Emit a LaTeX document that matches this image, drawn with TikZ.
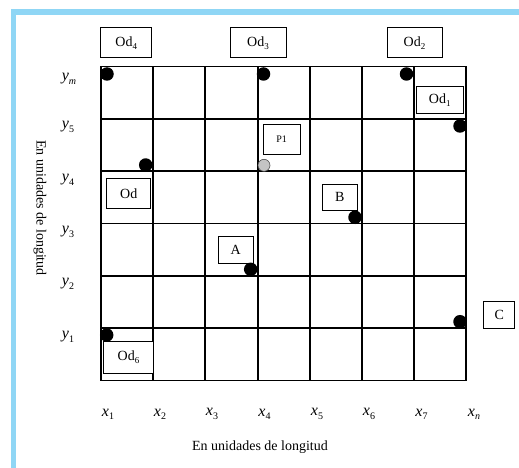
\documentclass[tikz,border=0pt]{standalone}
\usepackage{fontspec}
\setmainfont{Liberation Serif}
\definecolor{frameblue}{HTML}{8FD6F5}
\definecolor{dotgray}{HTML}{C4C4C4}
\newcommand\ilab[2]{\textit{#1}\raisebox{-0.45ex}{\fontsize{10}{10}\selectfont #2}}
\newcommand\sublab[2]{#1\raisebox{-0.45ex}{\fontsize{9}{9}\selectfont #2}}
\begin{document}
\begin{tikzpicture}[x=1pt,y=-1pt,
  box/.style={draw=black,line width=1pt,fill=white,inner sep=0pt,font=\fontsize{14}{14}\selectfont},
  dot/.style={circle,fill=black,inner sep=0pt,minimum size=13.5pt},
  graydot/.style={circle,fill=dotgray,draw=black!70,line width=0.6pt,inner sep=0pt,minimum size=12pt},
  lab/.style={inner sep=0pt,font=\fontsize{16}{16}\selectfont},
  gridline/.style={line width=1.9pt,black}]
\useasboundingbox (0,0) rectangle (519,468);
% blue frame
\fill[frameblue] (11,9) rectangle (519,15);
\fill[frameblue] (11,9) rectangle (16,468);
% grid
\foreach \i in {0,...,7} {
  \pgfmathsetmacro\xx{101+52.2*\i}
  \draw[gridline] (\xx,66.5) -- (\xx,380.5);
}
\foreach \j in {0,...,6} {
  \pgfmathsetmacro\yy{66.5+52.33*\j}
  \draw[gridline] (101,\yy) -- (466.4,\yy);
}
% y labels
\node[lab] (ym) at (69,79) {\ilab{y}{\textit{m}}};
\node[lab] (y5) at (68,127) {\ilab{y}{5}};
\node[lab] (y4) at (68,180) {\ilab{y}{4}};
\node[lab] (y3) at (68,232) {\ilab{y}{3}};
\node[lab] (y2) at (68,284) {\ilab{y}{2}};
\node[lab] (y1) at (68,337) {\ilab{y}{1}};
% x labels
\node[lab] (x1) at (108,414) {\ilab{x}{1}};
\node[lab] (x2) at (160,414) {\ilab{x}{2}};
\node[lab] (x3) at (212,414) {\ilab{x}{3}};
\node[lab] (x4) at (264.5,414) {\ilab{x}{4}};
\node[lab] (x5) at (317,414) {\ilab{x}{5}};
\node[lab] (x6) at (369,414) {\ilab{x}{6}};
\node[lab] (x7) at (421.5,414) {\ilab{x}{7}};
\node[lab] (xn) at (474,414) {\ilab{x}{\textit{n}}};
% axis titles
\node[inner sep=0pt,font=\fontsize{14}{14}\selectfont] (tx) at (260,447) {En unidades de longitud};
\node[inner sep=0pt,font=\fontsize{14}{14}\selectfont,rotate=-90] (ty) at (40,208) {En unidades de longitud};
% boxes
\node[box,minimum width=51pt,minimum height=30pt] (od4) at (126.3,42.8) {\sublab{Od}{4}};
\node[box,minimum width=56pt,minimum height=30pt] (od3) at (258,42.8) {\sublab{Od}{3}};
\node[box,minimum width=55pt,minimum height=30pt] (od2) at (414.5,42.8) {\sublab{Od}{2}};
\node[box,minimum width=47pt,minimum height=27pt] (od1) at (439.7,100.3) {\sublab{Od}{1}};
\node[box,minimum width=37pt,minimum height=30pt,font=\fontsize{10}{10}\selectfont] (p1) at (281.7,139.2) {P1};
\node[box,minimum width=35pt,minimum height=26pt] (b) at (339.8,197.3) {B};
\node[box,minimum width=35pt,minimum height=26.5pt] (a) at (235.7,250) {A};
\node[box,minimum width=44pt,minimum height=30.5pt] (od) at (128.7,193.7) {Od};
\node[box,minimum width=49.5pt,minimum height=31.5pt] (od6) at (128.5,357.5) {\sublab{Od}{6}};
\node[box,minimum width=31.5pt,minimum height=26.5pt] (c) at (499.2,315) {C};
% dots
\node[dot] (d1) at (107,74) {};
\node[dot] (d2) at (263.5,74) {};
\node[dot] (d3) at (406.5,74) {};
\node[dot] (d4) at (460,126) {};
\node[dot] (d5) at (145.7,165) {};
\node[graydot] (d6) at (264,165.3) {};
\node[dot] (d7) at (355,217.3) {};
\node[dot] (d8) at (250.7,269.3) {};
\node[dot] (d9) at (460,321.7) {};
\node[dot] (d10) at (106.7,335) {};
\end{tikzpicture}
\end{document}
